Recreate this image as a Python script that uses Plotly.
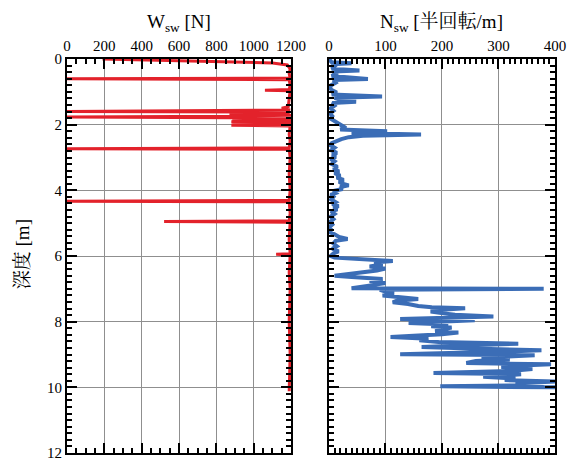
import plotly.graph_objects as go

# Swedish weight sounding log: load W_sw [N] and half-turns N_sw [per m] vs depth

# W_sw profile (depth in m, load in N)
w_depth = [0.00, 0.04, 0.08, 0.12, 0.18, 0.30, 0.45, 0.58, 0.60, 0.63, 0.80, 0.93,
           0.95, 0.97, 1.20, 1.45, 1.50, 1.55, 1.60, 1.62, 1.66, 1.68, 1.71, 1.74,
           1.77, 1.79, 1.82, 1.85, 1.88, 1.91, 1.94, 1.97, 2.00, 2.02, 2.04, 2.30,
           2.50, 2.71, 2.73, 2.75, 3.00, 3.50, 4.00, 4.31, 4.33, 4.35, 4.70, 4.93,
           4.95, 4.97, 5.50, 5.93, 5.95, 5.97, 6.50, 7.00, 8.00, 9.00, 10.12]
w_load = [190, 520, 850, 1100, 1180, 1195, 1190, 1195, 0, 1190, 1195, 1190,
          1060, 1195, 1190, 1185, 1150, 1195, 0, 1180, 1190, 870, 1200, 880,
          0, 880, 1200, 885, 1200, 880, 1200, 885, 1200, 880, 1195, 1190,
          1195, 1190, 0, 1190, 1195, 1190, 1195, 1190, 0, 1190, 1195, 1190,
          520, 1195, 1190, 1195, 1120, 1195, 1190, 1195, 1190, 1195, 1190]

# N_sw profile (depth in m, half-turns per m)
n_depth = [0.00, 0.10, 0.13, 0.16, 0.22, 0.30, 0.35, 0.38, 0.45, 0.52, 0.61, 0.64,
           0.72, 0.80, 0.88, 0.95, 1.02, 1.08, 1.14, 1.18, 1.24, 1.30, 1.34, 1.42,
           1.50, 1.58, 1.66, 1.74, 1.82, 1.90, 1.97, 2.04, 2.10, 2.15, 2.20, 2.25,
           2.30, 2.34, 2.38, 2.44, 2.50, 2.56, 2.62, 2.70, 2.78, 2.86, 2.92, 2.98,
           3.05, 3.12, 3.20, 3.28, 3.36, 3.42, 3.48, 3.55, 3.61, 3.68, 3.74, 3.80,
           3.85, 3.90, 3.96, 4.02, 4.08, 4.14, 4.20, 4.28, 4.36, 4.42, 4.48, 4.54,
           4.58, 4.64, 4.72, 4.80, 4.88, 4.96, 5.04, 5.12, 5.20, 5.28, 5.34, 5.42,
           5.48, 5.54, 5.62, 5.70, 5.78, 5.86, 5.92, 6.00, 6.05, 6.10, 6.15, 6.20,
           6.26, 6.32, 6.38, 6.44, 6.50, 6.56, 6.60, 6.64, 6.70, 6.76, 6.82, 6.88,
           6.94, 6.98, 7.00, 7.03, 7.08, 7.14, 7.20, 7.26, 7.31, 7.36, 7.41, 7.46,
           7.52, 7.56, 7.59, 7.64, 7.69, 7.74, 7.79, 7.84, 7.88, 7.92, 7.96, 8.00,
           8.04, 8.09, 8.14, 8.18, 8.24, 8.29, 8.33, 8.38, 8.43, 8.47, 8.52, 8.57,
           8.62, 8.67, 8.72, 8.77, 8.82, 8.87, 8.92, 8.99, 9.02, 9.06, 9.10, 9.15,
           9.20, 9.26, 9.30, 9.34, 9.38, 9.44, 9.50, 9.56, 9.60, 9.65, 9.68, 9.73,
           9.78, 9.82, 9.88, 9.93, 9.97, 10.00]
n_turns = [0, 5, 40, 5, 10, 5, 54, 8, 12, 5, 69, 8,
           12, 4, 2, 5, 14, 5, 94, 10, 20, 48, 6, 10,
           3, 8, 2, 6, 3, 10, 18, 25, 30, 20, 103, 40,
           163, 60, 35, 22, 12, 5, 2, 10, 4, 14, 6, 12,
           3, 10, 5, 15, 8, 18, 10, 20, 14, 26, 18, 24,
           35, 20, 24, 8, 12, 3, 8, 4, 12, 6, 17, 8,
           15, 4, 10, 3, 8, 2, 6, 1, 4, 2, 10, 18,
           33, 12, 8, 14, 6, 17, 8, 3, 10, 60, 113, 80,
           95, 72, 100, 85, 60, 30, 10, 40, 95, 72, 100, 80,
           60, 40, 380, 90, 100, 115, 95, 125, 158, 120, 113, 140,
           158, 182, 241, 200, 180, 199, 223, 291, 200, 126, 258, 214,
           141, 211, 181, 217, 200, 188, 229, 200, 150, 109, 176, 160,
           194, 335, 250, 164, 250, 376, 300, 126, 364, 300, 270, 320,
           260, 243, 393, 330, 305, 360, 320, 185, 340, 300, 273, 330,
           311, 400, 330, 380, 197, 400]

w_ticks = [0, 200, 400, 600, 800, 1000, 1200]
n_ticks = [0, 100, 200, 300, 400]
n_half_ticks = [50, 150, 250, 350]
depth_ticks = [0, 2, 4, 6, 8, 10, 12]
depth_odd_ticks = [1, 3, 5, 7, 9, 11]

SERIF = "Liberation Serif, Noto Serif CJK JP, Noto Sans CJK JP, serif"
RED = "#E3222B"
BLUE = "#3B6DB6"
GRID = "#8f8f8f"

fig = go.Figure()
fig.add_trace(go.Scatter(x=w_load, y=w_depth, mode="lines",
                         line=dict(color=RED, width=3), xaxis="x", yaxis="y"))
fig.add_trace(go.Scatter(x=n_turns, y=n_depth, mode="lines",
                         line=dict(color=BLUE, width=4), xaxis="x2", yaxis="y2"))

frame = dict(showline=True, linecolor="black", linewidth=2, mirror="ticks",
             ticks="inside", tickcolor="black", tickwidth=2, ticklen=10,
             showgrid=True, gridcolor=GRID, gridwidth=1, zeroline=False)
labelled = dict(frame, tickfont=dict(family=SERIF, size=15, color="black"))


def minor(step):
    return dict(dtick=step, ticklen=5, ticks="inside", tickcolor="black",
                tickwidth=2, showgrid=False)


left_dom = [0.0, 225 / 490]
right_dom = [263 / 490, 1.0]

fig.update_layout(
    width=579, height=470,
    margin=dict(l=67, r=22, t=59, b=9),
    paper_bgcolor="white", plot_bgcolor="white",
    showlegend=False,
    xaxis=dict(domain=left_dom, range=[0, 1200], side="top",
               tickvals=w_ticks, minor=minor(50), **labelled),
    yaxis=dict(range=[12, 0], tickvals=depth_ticks, minor=minor(0.2), **labelled),
    xaxis2=dict(domain=right_dom, range=[0, 400], side="top", anchor="y2",
                tickvals=n_ticks, minor=minor(10), **labelled),
    yaxis2=dict(range=[12, 0], tickvals=depth_ticks, showticklabels=False,
                anchor="x2", minor=minor(0.2), **frame),
    # unlabeled grid lines: every 50 on N_sw, every odd metre of depth
    xaxis3=dict(domain=right_dom, range=[0, 400], side="top", overlaying="x2",
                anchor="y2", tickvals=n_half_ticks, showticklabels=False, **frame),
    yaxis3=dict(range=[12, 0], overlaying="y", anchor="x", tickvals=depth_odd_ticks,
                showticklabels=False, **frame),
    yaxis4=dict(range=[12, 0], overlaying="y2", anchor="x2", tickvals=depth_odd_ticks,
                showticklabels=False, **frame),
)

top_y = 1 + (59 - 22) / 402
fig.add_annotation(text="W<sub>sw</sub> [N]", xref="paper", yref="paper",
                   x=sum(left_dom) / 2, y=top_y, xanchor="center", yanchor="middle",
                   showarrow=False, font=dict(family=SERIF, size=19, color="black"))
fig.add_annotation(text="N<sub>sw</sub> [半回転/m]", xref="paper", yref="paper",
                   x=sum(right_dom) / 2, y=top_y, xanchor="center", yanchor="middle",
                   showarrow=False, font=dict(family=SERIF, size=19, color="black"))
fig.add_annotation(text="深度 [m]", xref="paper", yref="paper",
                   x=(22 - 67) / 490, y=1 - (258 - 59) / 402, textangle=-90,
                   xanchor="center", yanchor="middle", showarrow=False,
                   font=dict(family=SERIF, size=19, color="black"))

fig.write_html("out.html")
